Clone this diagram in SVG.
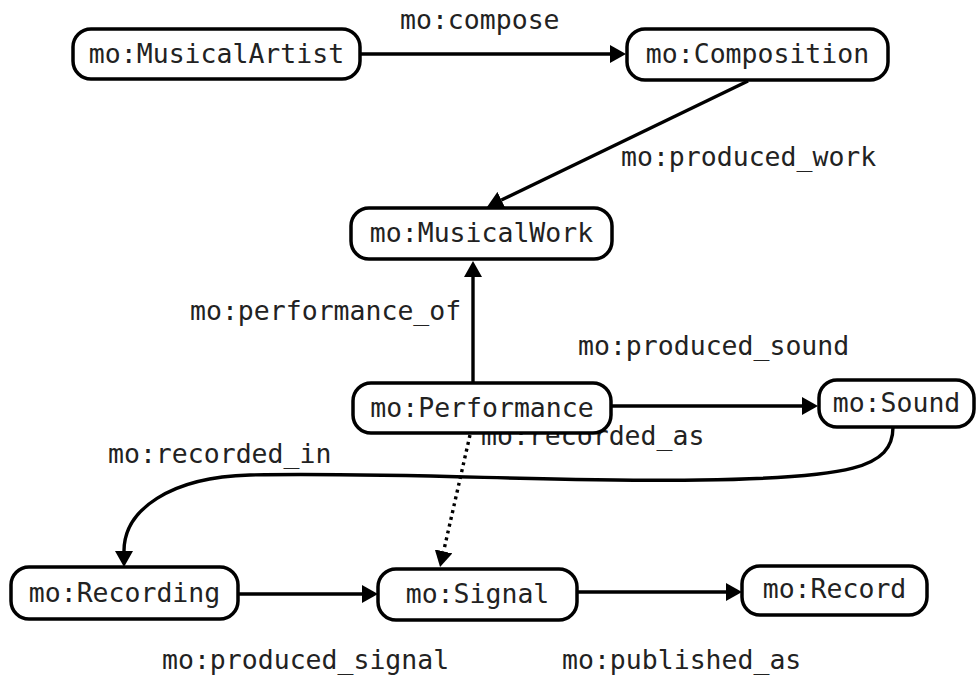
<svg xmlns="http://www.w3.org/2000/svg" width="978" height="677" viewBox="0 0 978 677">
<style>
.box{fill:#fff;stroke:#000;stroke-width:3.5}
.t{font-family:"DejaVu Sans Mono","Liberation Mono",monospace;font-size:26.5px;fill:#222}
.e{fill:none;stroke:#000;stroke-width:3.4}
.d{stroke-dasharray:3 4}
</style>
<defs>
<marker id="ah" viewBox="0 0 16 18" refX="0" refY="9" markerWidth="16" markerHeight="18" markerUnits="userSpaceOnUse" orient="auto">
<path d="M0,0 L16,9 L0,18 z" fill="#000"/>
</marker>
</defs>
<rect width="978" height="677" fill="#fff"/>
<g id="connectors">
<path class="e" d="M360 54 H610" marker-end="url(#ah)"/>
<path class="e" d="M748 81 L501.4 200" marker-end="url(#ah)"/>
<path class="e" d="M473 383 V277" marker-end="url(#ah)"/>
<path class="e" d="M611 406 H802" marker-end="url(#ah)"/>
<path class="e d" d="M470 435 L443.6 551.4" marker-end="url(#ah)"/>
<path class="e" d="M893 427 C893 468 850 478 700 480 C550 482 400 472 250 475 C170 477 124 510 124 551" marker-end="url(#ah)"/>
<path class="e" d="M238 594 H362" marker-end="url(#ah)"/>
<path class="e" d="M577 592 H726" marker-end="url(#ah)"/>
</g>
<g id="edge-labels" class="t">
<text x="400" y="29">mo:compose</text>
<text x="621" y="166">mo:produced_work</text>
<text x="190" y="320">mo:performance_of</text>
<text x="578" y="355">mo:produced_sound</text>
<text x="481" y="445">mo:recorded_as</text>
<text x="108" y="463">mo:recorded_in</text>
<text x="162" y="669">mo:produced_signal</text>
<text x="562" y="669">mo:published_as</text>
</g>
<g id="n-musicalartist"><rect class="box" x="73" y="29" width="287" height="50" rx="18"/><text class="t" x="216.5" y="63" text-anchor="middle">mo:MusicalArtist</text></g>
<g id="n-composition"><rect class="box" x="627" y="29" width="261" height="51" rx="18"/><text class="t" x="757.5" y="63" text-anchor="middle">mo:Composition</text></g>
<g id="n-musicalwork"><rect class="box" x="351" y="208" width="261" height="51" rx="18"/><text class="t" x="481.5" y="242" text-anchor="middle">mo:MusicalWork</text></g>
<g id="n-performance"><rect class="box" x="353" y="383" width="258" height="50" rx="18"/><text class="t" x="482" y="417" text-anchor="middle">mo:Performance</text></g>
<g id="n-sound"><rect class="box" x="819" y="380" width="155" height="47" rx="18"/><text class="t" x="896.5" y="412" text-anchor="middle">mo:Sound</text></g>
<g id="n-recording"><rect class="box" x="11" y="567" width="227" height="52" rx="18"/><text class="t" x="124.5" y="602" text-anchor="middle">mo:Recording</text></g>
<g id="n-signal"><rect class="box" x="378" y="569" width="199" height="51" rx="18"/><text class="t" x="477.5" y="603" text-anchor="middle">mo:Signal</text></g>
<g id="n-record"><rect class="box" x="742" y="566" width="185" height="49" rx="18"/><text class="t" x="834.5" y="598" text-anchor="middle">mo:Record</text></g>
</svg>
